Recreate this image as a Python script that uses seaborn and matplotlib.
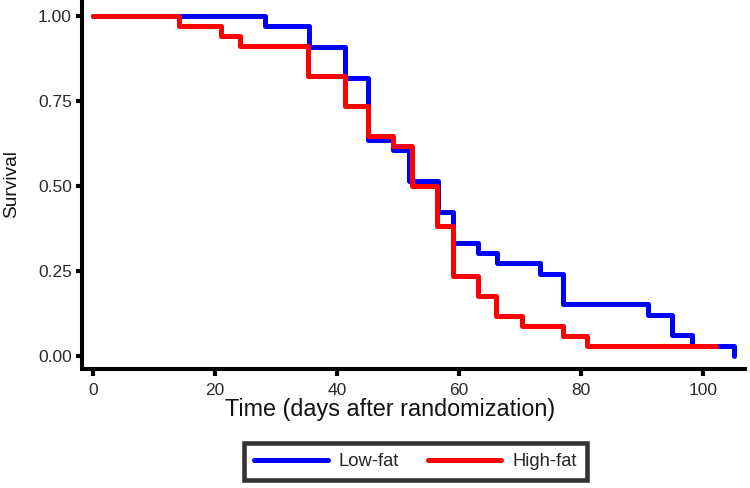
import matplotlib
matplotlib.use('Agg')
import matplotlib.pyplot as plt
import seaborn as sns
import pandas as pd

# Kaplan-Meier step points (time in days, survival after the step)
low_fat_time = [0, 28.2, 35.4, 41.3, 45.1, 49.2, 51.8, 56.6, 59.0, 63.1, 66.2, 73.3, 77.0, 90.9, 94.9, 98.2, 105.0]
low_fat_surv = [1.00, 0.970, 0.909, 0.818, 0.636, 0.606, 0.515, 0.424, 0.333, 0.303, 0.273, 0.242, 0.152, 0.121, 0.061, 0.030, 0.00]

high_fat_time = [0, 14.1, 21.0, 24.1, 35.3, 41.3, 45.1, 49.2, 52.3, 56.4, 59.0, 63.1, 66.1, 70.3, 77.0, 81.0, 102.1]
high_fat_surv = [1.00, 0.971, 0.941, 0.912, 0.824, 0.735, 0.647, 0.618, 0.500, 0.382, 0.235, 0.176, 0.118, 0.088, 0.059, 0.029, 0.029]

groups = ['Low-fat', 'High-fat']
colors = {'Low-fat': '#0000ff', 'High-fat': '#ff0000'}

x_ticks = [0, 20, 40, 60, 80, 100]
y_ticks = [0.00, 0.25, 0.50, 0.75, 1.00]
y_tick_labels = ['0.00', '0.25', '0.50', '0.75', '1.00']

df = pd.concat([
    pd.DataFrame({'time': low_fat_time, 'surv': low_fat_surv, 'group': 'Low-fat'}),
    pd.DataFrame({'time': high_fat_time, 'surv': high_fat_surv, 'group': 'High-fat'}),
], ignore_index=True)

sns.set_style('white')
plt.rcParams['font.family'] = ['Liberation Sans', 'DejaVu Sans']

fig = plt.figure(figsize=(7.5, 4.88), dpi=100)
ax = fig.add_axes([81.7 / 750, 1 - 369 / 488, (745 - 81.7) / 750, 369 / 488])

sns.lineplot(data=df, x='time', y='surv', hue='group', hue_order=groups,
             palette=colors, drawstyle='steps-post', estimator=None,
             linewidth=3.6, ax=ax, legend=True)

ax.set_xlim(-1.8, 106.83)
ax.set_ylim(-0.038, 1.046)
ax.set_xticks(x_ticks)
ax.set_yticks(y_ticks)
ax.set_yticklabels(y_tick_labels)
ax.tick_params(axis='both', direction='out', bottom=True, left=True, width=3,
               color='black', labelsize=12.5, labelcolor='#2a2a2a')
ax.tick_params(axis='x', length=5, pad=5)
ax.tick_params(axis='y', length=4, pad=3)

for side in ['top', 'right']:
    ax.spines[side].set_visible(False)
for side in ['left', 'bottom']:
    ax.spines[side].set_linewidth(2.9)
    ax.spines[side].set_color('black')

ax.set_xlabel('Time (days after randomization)', fontsize=16.8, color='#111111')
ax.set_ylabel('Survival', fontsize=13.8, color='#111111')
ax.xaxis.label.set_va('center')
ax.yaxis.label.set_va('center')
ax.xaxis.set_label_coords(0.465, -0.111)
ax.yaxis.set_label_coords(-0.105, 0.5)

ax.get_legend().remove()
handles, labels = ax.get_legend_handles_labels()
leg = fig.legend(handles, labels, loc='center', bbox_to_anchor=(0.554, 0.054),
                 ncol=2, frameon=True, fancybox=False, fontsize=13.2,
                 handlelength=4.0, handletextpad=0.6, columnspacing=1.6,
                 borderpad=0.55, borderaxespad=0)
leg.get_frame().set_edgecolor('black')
leg.get_frame().set_linewidth(3.3)
for line in leg.get_lines():
    line.set_linewidth(3.6)

fig.savefig('out.png', dpi=100)
